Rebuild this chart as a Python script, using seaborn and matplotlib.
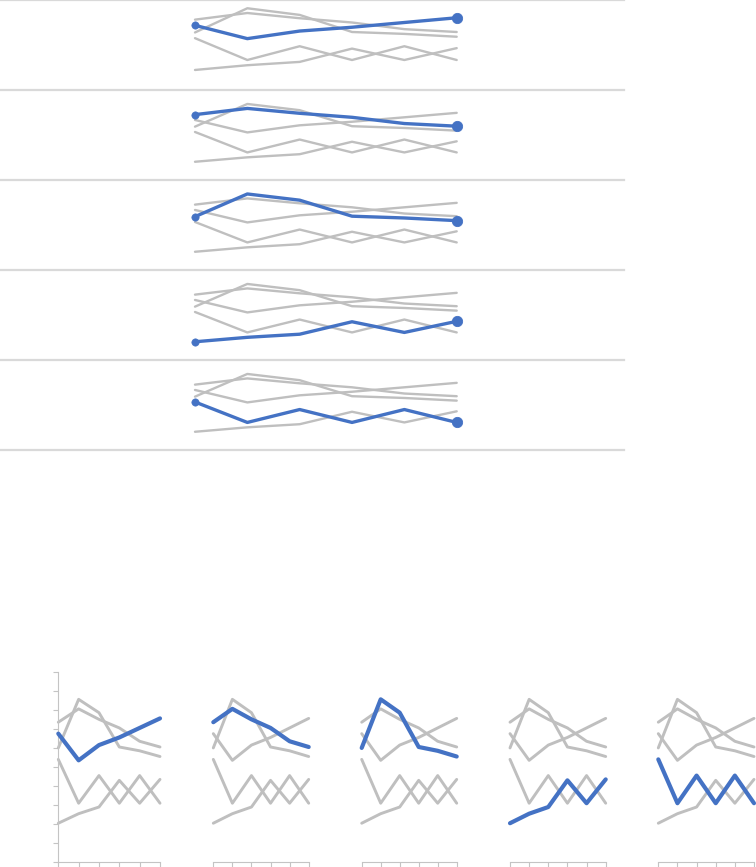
"""
Highlight small multiples: each of five series shown in blue against the others in gray,
first as stacked rows (top), then as a row of small panels (bottom).
"""

import matplotlib
matplotlib.use("Agg")
import matplotlib.pyplot as plt
import numpy as np
import pandas as pd
import seaborn as sns

# ----------------------------
# Data
# ----------------------------
SERIES = ["A", "B", "C", "D", "E"]
POINTS = [0, 1, 2, 3, 4, 5]

A_VALUES = [67.5, 53.5, 61.5, 65.5, 70.5, 75.5]
B_VALUES = [73.5, 80.5, 75.0, 70.5, 63.5, 60.5]
C_VALUES = [60.0, 85.5, 78.5, 60.5, 58.5, 55.5]
D_VALUES = [20.5, 25.5, 29.0, 43.0, 31.0, 43.5]
E_VALUES = [54.0, 31.0, 45.5, 31.0, 45.5, 31.0]

VALUES = {"A": A_VALUES, "B": B_VALUES, "C": C_VALUES, "D": D_VALUES, "E": E_VALUES}

df = pd.DataFrame(
    [(s, x, v) for s in SERIES for x, v in zip(POINTS, VALUES[s])],
    columns=["series", "x", "value"],
)

# ----------------------------
# Style
# ----------------------------
BLUE = "#4472C4"
GRAY = "#BFBFBF"
RULE = "#D9D9D9"
AXIS = "#C4C4C4"

W, H = 756, 867
sns.set_style("white")
fig = plt.figure(figsize=(W / 100, H / 100), dpi=100)


def px_axes(left, top, width, height):
    return fig.add_axes([left / W, 1 - (top + height) / H, width / W, height / H])


def draw_lines(ax, hl, lw_gray, lw_blue):
    others = df[df["series"] != hl]
    sns.lineplot(data=others, x="x", y="value", units="series", estimator=None,
                 color=GRAY, linewidth=lw_gray, ax=ax, legend=False, zorder=2)
    sns.lineplot(data=df[df["series"] == hl], x="x", y="value",
                 color=BLUE, linewidth=lw_blue, ax=ax, legend=False, zorder=3)


# ----------------------------
# Top: stacked rows
# ----------------------------
ROW_H = 90
step = (456.7 - 195) / 5
for i, s in enumerate(SERIES):
    ax = px_axes(0, ROW_H * i, 624, ROW_H)
    draw_lines(ax, s, 1.7, 2.4)
    hl = df[df["series"] == s]
    sns.scatterplot(x=hl["x"].iloc[[0]], y=hl["value"].iloc[[0]], s=28, color=BLUE,
                    edgecolor=BLUE, ax=ax, zorder=4, legend=False)
    sns.scatterplot(x=hl["x"].iloc[[-1]], y=hl["value"].iloc[[-1]], s=55, color=BLUE,
                    edgecolor=BLUE, ax=ax, zorder=4, legend=False)
    ax.set_xlim(-195 / step, (624 - 195) / step)
    # first row is drawn on a slightly taller scale than the others
    ax.set_ylim((-0.6, 94.2) if i == 0 else (0, 101.2))
    ax.set_xticks([])
    ax.set_yticks([])
    ax.set_xlabel("")
    ax.set_ylabel("")
    for side in ["left", "right"]:
        ax.spines[side].set_visible(False)
    ax.spines["top"].set_visible(i == 0)
    for side in ["top", "bottom"]:
        ax.spines[side].set_color(RULE)
        ax.spines[side].set_linewidth(1.6)
    ax.patch.set_alpha(0)

# ----------------------------
# Bottom: small panels
# ----------------------------
PANELS = [(58.3, 101.7), (213.3, 95.4), (361.7, 95.0), (510.0, 95.7), (658.3, 95.7)]
top, height = 671.7, 862.3 - 671.7
for i, (s, (left, width)) in enumerate(zip(SERIES, PANELS)):
    ax = px_axes(left, top, width, height)
    draw_lines(ax, s, 2.1, 3.0)
    ax.set_xlim(0, 5)
    ax.set_ylim(0, 100)
    ax.set_xticks(POINTS)
    ax.set_xticklabels([])
    ax.set_xlabel("")
    ax.set_ylabel("")
    ax.tick_params(axis="x", bottom=True, length=3.5, width=0.8, color=AXIS, direction="out")
    for side in ["top", "right"]:
        ax.spines[side].set_visible(False)
    ax.spines["bottom"].set_color(AXIS)
    ax.spines["bottom"].set_linewidth(0.8)
    if i == 0:
        ax.set_yticks(np.arange(0, 101, 10))
        ax.set_yticklabels([])
        ax.tick_params(axis="y", left=True, length=3.5, width=0.8, color=AXIS, direction="out")
        ax.spines["left"].set_color(AXIS)
        ax.spines["left"].set_linewidth(0.8)
    else:
        ax.set_yticks([])
        ax.spines["left"].set_visible(False)
    for line in ax.get_lines():
        line.set_clip_on(False)
    ax.patch.set_alpha(0)

fig.savefig("out.png", dpi=100)
